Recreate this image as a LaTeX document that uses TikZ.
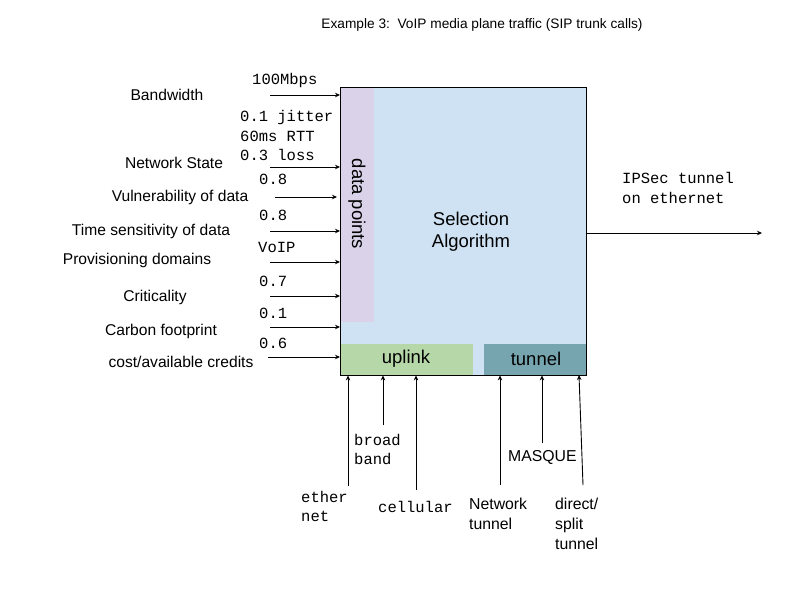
\documentclass[tikz,border=0pt]{standalone}
\usepackage{fontspec}
\setmainfont{Liberation Sans}
\setmonofont{Liberation Mono}
\usetikzlibrary{arrows.meta}
\definecolor{selblue}{HTML}{CFE2F3}
\definecolor{dpurple}{HTML}{D9D2E9}
\definecolor{upgreen}{HTML}{B6D7A8}
\definecolor{tunteal}{HTML}{76A5AF}
\begin{document}
\begin{tikzpicture}[x=1pt,y=-1pt,
  lab/.style={font=\fontsize{15.6}{20}\selectfont, inner sep=0pt},
  mono/.style={font=\ttfamily\fontsize{15.5}{19.5}\selectfont, inner sep=0pt, align=left},
  sans/.style={font=\fontsize{15.8}{20}\selectfont, inner sep=0pt, align=left},
  big/.style={font=\fontsize{18.5}{22}\selectfont, inner sep=0pt, align=center},
  arr/.style={-{Stealth[length=5pt,width=4.5pt]}, line width=0.9pt},
  part/.style={inner sep=0pt, anchor=north west}]
\useasboundingbox (0,0) rectangle (800,600);
\node[font=\fontsize{13.7}{16}\selectfont, inner sep=0pt] (title) at (482,25) {Example 3:\ \ VoIP media plane traffic (SIP trunk calls)};
% main box
\node[part, fill=selblue, minimum width=246pt, minimum height=288pt] (box) at (340,87) {};
\node[part, fill=dpurple, minimum width=34pt, minimum height=235pt] (dp) at (340,87) {};
\node[part, fill=upgreen, minimum width=133pt, minimum height=31pt] (up) at (340,344) {};
\node[part, fill=tunteal, minimum width=103pt, minimum height=31pt] (tun) at (484,344) {};
\draw[line width=1pt] (box.north west) rectangle (box.south east);
\node[big, rotate=-90] (dptext) at (357,204) {data points};
\node[big] (seltext) at (471,232) {Selection\\Algorithm};
\node[big] (uptext) at (406,359) {uplink};
\node[big] (tuntext) at (536,359) {tunnel};
% left labels
\node[lab] (l1) at (167,95) {Bandwidth};
\node[lab] (l2) at (174,163) {Network State};
\node[lab] (l3) at (180,197) {Vulnerability of data};
\node[lab] (l4) at (151,231) {Time sensitivity of data};
\node[lab] (l5) at (137,260) {Provisioning domains};
\node[lab] (l6) at (155,297) {Criticality};
\node[lab] (l7) at (161,331) {Carbon footprint};
\node[lab] (l8) at (181,362) {cost/available credits};
% value labels
\node[mono, anchor=west] (v1) at (252,80) {100Mbps};
\node[mono, anchor=west] (v2) at (240,117) {0.1 jitter};
\node[mono, anchor=west] (v3) at (240,136) {60ms RTT};
\node[mono, anchor=west] (v4) at (240,155) {0.3 loss};
\node[mono, anchor=west] (v5) at (259,179) {0.8};
\node[mono, anchor=west] (v6) at (259,215) {0.8};
\node[mono, anchor=west] (v7) at (258,247) {VoIP};
\node[mono, anchor=west] (v8) at (259,281) {0.7};
\node[mono, anchor=west] (v9) at (259,313) {0.1};
\node[mono, anchor=west] (v10) at (259,343) {0.6};
% left arrows
\coordinate (a1) at (270,95);
\coordinate (a2) at (270,167);
\coordinate (a3) at (275,197);
\coordinate (a4) at (270,231);
\coordinate (a5) at (270,262);
\coordinate (a6) at (270,296);
\coordinate (a7) at (270,327);
\coordinate (a8) at (268,357);
\foreach \c in {a1,a2,a4,a5,a6,a7,a8} \draw[arr] (\c) -- (\c -| box.west);
\draw[arr] (a3) -- ++(62,0);
% right arrow
\node[mono, anchor=west] (ipsec) at (622,188) {IPSec tunnel\\on ethernet};
\coordinate (outend) at (762,233);
\draw[arr] (box.east |- outend) -- (outend);
% bottom arrows and labels
\node[mono, anchor=north west] (eth) at (301,491) {ether\\net};
\node[mono, anchor=north west] (bb) at (354,434) {broad\\band};
\node[mono, anchor=west] (cell) at (378,507) {cellular};
\node[sans, anchor=north west] (nt) at (469,498) {Network\\tunnel};
\node[sans, anchor=west] (masq) at (508,457) {MASQUE};
\node[sans, anchor=north west] (ds) at (555,498) {direct/\\split\\tunnel};
\coordinate (b1) at (348,486);
\coordinate (b2) at (383,425);
\coordinate (b3) at (416,490);
\coordinate (b4) at (500,485);
\coordinate (b5) at (542,443);
\foreach \c in {b1,b2,b3,b4,b5} \draw[arr] (\c) -- (\c |- box.south);
\coordinate (b6) at (583,485);
\draw[arr] (b6) -- (579,375);
\end{tikzpicture}
\end{document}
